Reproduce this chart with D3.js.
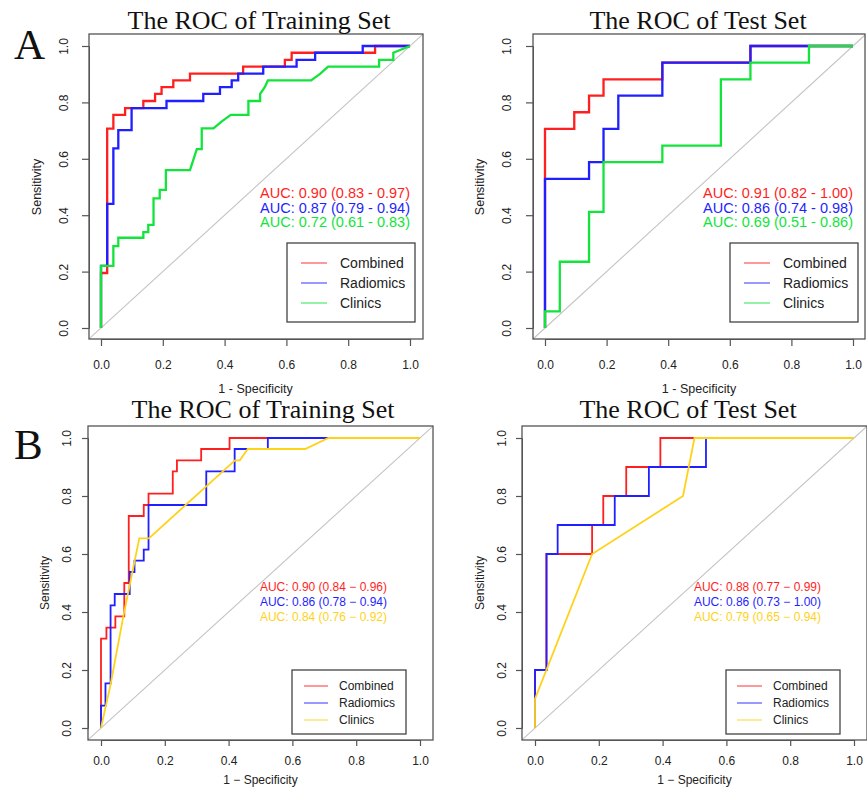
<!DOCTYPE html>
<html>
<head>
<meta charset="utf-8">
<script src="https://cdn.jsdelivr.net/npm/d3@7"></script>
<style>
  body { margin: 0; background: #fff; }
  text { font-family: "Liberation Sans", Arial, sans-serif; fill: #222; }
</style>
</head>
<body>
<div id="chart"></div>
<script>
const models = ["Combined", "Radiomics", "Clinics"];
const tickValues = [0, 0.2, 0.4, 0.6, 0.8, 1.0];

// each curve: [1 - specificity, sensitivity]
// A - training set
const aTrainCombined = [[0,0],[0,0.195],[0.02,0.195],[0.02,0.707],[0.04,0.707],[0.04,0.756],[0.078,0.756],[0.078,0.78],[0.137,0.78],[0.137,0.805],[0.175,0.805],[0.175,0.83],[0.196,0.83],[0.196,0.854],[0.234,0.854],[0.234,0.878],[0.288,0.878],[0.288,0.902],[0.46,0.902],[0.46,0.927],[0.595,0.927],[0.595,0.951],[0.617,0.951],[0.617,0.976],[0.887,0.976],[0.887,1],[1,1]];
const aTrainRadiomics = [[0,0],[0,0.22],[0.02,0.22],[0.02,0.44],[0.04,0.44],[0.04,0.637],[0.056,0.637],[0.056,0.702],[0.099,0.702],[0.099,0.78],[0.212,0.78],[0.212,0.805],[0.331,0.805],[0.331,0.83],[0.385,0.83],[0.385,0.854],[0.423,0.854],[0.423,0.878],[0.444,0.878],[0.444,0.902],[0.525,0.902],[0.525,0.927],[0.633,0.927],[0.633,0.951],[0.693,0.951],[0.693,0.976],[0.847,0.976],[0.847,1],[1,1]];
const aTrainClinics = [[0,0],[0,0.22],[0.04,0.22],[0.04,0.29],[0.056,0.29],[0.056,0.32],[0.137,0.32],[0.137,0.34],[0.153,0.34],[0.153,0.366],[0.17,0.366],[0.17,0.46],[0.19,0.46],[0.19,0.49],[0.21,0.49],[0.21,0.56],[0.288,0.56],[0.31,0.634],[0.326,0.634],[0.326,0.708],[0.364,0.708],[0.39,0.732],[0.42,0.756],[0.477,0.756],[0.477,0.805],[0.515,0.805],[0.515,0.83],[0.53,0.854],[0.54,0.878],[0.68,0.878],[0.71,0.902],[0.735,0.927],[0.9,0.927],[0.9,0.951],[0.946,0.951],[0.946,0.976],[1,1]];
const aTrainAuc = ["AUC: 0.90 (0.83 - 0.97)", "AUC: 0.87 (0.79 - 0.94)", "AUC: 0.72 (0.61 - 0.83)"];

// A - test set
const aTestCombined = [[0,0],[0,0.706],[0.095,0.706],[0.095,0.765],[0.143,0.765],[0.143,0.824],[0.19,0.824],[0.19,0.882],[0.381,0.882],[0.381,0.941],[0.667,0.941],[0.667,1],[1,1]];
const aTestRadiomics = [[0,0],[0,0.529],[0.143,0.529],[0.143,0.588],[0.19,0.588],[0.19,0.706],[0.238,0.706],[0.238,0.824],[0.381,0.824],[0.381,0.941],[0.667,0.941],[0.667,1],[1,1]];
const aTestClinics = [[0,0],[0,0.059],[0.048,0.059],[0.048,0.235],[0.143,0.235],[0.143,0.412],[0.19,0.412],[0.19,0.588],[0.381,0.588],[0.381,0.647],[0.571,0.647],[0.571,0.882],[0.667,0.882],[0.667,0.941],[0.857,0.941],[0.857,1],[1,1]];
const aTestAuc = ["AUC: 0.91 (0.82 - 1.00)", "AUC: 0.86 (0.74 - 0.98)", "AUC: 0.69 (0.51 - 0.86)"];

// B - training set
const bTrainCombined = [[0,0],[0,0.308],[0.017,0.308],[0.017,0.346],[0.045,0.346],[0.045,0.385],[0.073,0.385],[0.073,0.5],[0.087,0.5],[0.087,0.731],[0.134,0.731],[0.134,0.769],[0.149,0.769],[0.149,0.808],[0.225,0.808],[0.225,0.885],[0.238,0.885],[0.238,0.923],[0.314,0.923],[0.314,0.962],[0.403,0.962],[0.403,1],[1,1]];
const bTrainRadiomics = [[0,0],[0,0.077],[0.014,0.077],[0.014,0.154],[0.03,0.154],[0.03,0.423],[0.043,0.423],[0.043,0.462],[0.09,0.462],[0.09,0.538],[0.105,0.538],[0.105,0.577],[0.134,0.577],[0.134,0.615],[0.149,0.615],[0.149,0.769],[0.33,0.769],[0.33,0.885],[0.419,0.885],[0.419,0.962],[0.523,0.962],[0.523,1],[1,1]];
const bTrainClinics = [[0,0],[0.03,0.15],[0.07,0.385],[0.12,0.654],[0.15,0.654],[0.42,0.923],[0.435,0.923],[0.46,0.962],[0.64,0.962],[0.713,1],[1,1]];
const bTrainAuc = ["AUC: 0.90 (0.84 \u2212 0.96)", "AUC: 0.86 (0.78 \u2212 0.94)", "AUC: 0.84 (0.76 \u2212 0.92)"];

// B - test set
const bTestCombined = [[0,0],[0,0.2],[0.036,0.2],[0.036,0.6],[0.179,0.6],[0.179,0.7],[0.214,0.7],[0.214,0.8],[0.286,0.8],[0.286,0.9],[0.393,0.9],[0.393,1],[1,1]];
const bTestRadiomics = [[0,0],[0,0.2],[0.036,0.2],[0.036,0.6],[0.071,0.6],[0.071,0.7],[0.25,0.7],[0.25,0.8],[0.357,0.8],[0.357,0.9],[0.536,0.9],[0.536,1],[1,1]];
const bTestClinics = [[0,0],[0,0.1],[0.179,0.6],[0.464,0.8],[0.5,1],[1,1]];
const bTestAuc = ["AUC: 0.88 (0.77 \u2212 0.99)", "AUC: 0.86 (0.73 \u2212 1.00)", "AUC: 0.79 (0.65 \u2212 0.94)"];

const colorsA = ["#ff1f1f", "#1f1fff", "#12e43c"];
const colorsB = ["#ff1f1f", "#1f1fff", "#ffd21a"];

const svg = d3.select("#chart").append("svg")
    .attr("width", 867)
    .attr("height", 787);

svg.append("rect").attr("width", 867).attr("height", 787).attr("fill", "#fff");

function drawPanel(p) {
    const x = d3.scaleLinear().domain([0, 1]).range([p.x0, p.x1]);
    const y = d3.scaleLinear().domain([0, 1]).range([p.y0, p.y1]);
    const g = svg.append("g");

    // reference diagonal, clipped to the box
    const t0 = Math.max(x.invert(p.left), y.invert(p.bottom));
    const t1 = Math.min(x.invert(p.right), y.invert(p.top));
    g.append("line")
        .attr("x1", x(t0)).attr("y1", y(t0))
        .attr("x2", x(t1)).attr("y2", y(t1))
        .attr("stroke", "#c4c4c4")
        .attr("stroke-width", 1.1);

    const line = d3.line().x(d => x(d[0])).y(d => y(d[1]));
    p.curves.forEach((c, i) => {
        g.append("path")
            .datum(c)
            .attr("d", line)
            .attr("fill", "none")
            .attr("stroke", p.colors[i])
            .attr("stroke-width", p.lw);
    });

    // box
    g.append("rect")
        .attr("x", p.left).attr("y", p.top)
        .attr("width", p.right - p.left).attr("height", p.bottom - p.top)
        .attr("fill", "none")
        .attr("stroke", "#555")
        .attr("stroke-width", 1.3);

    const xAxis = g.append("g")
        .attr("transform", `translate(0,${p.bottom})`)
        .call(d3.axisBottom(x).tickValues(tickValues).tickFormat(d3.format(".1f"))
            .tickSize(p.tick).tickPadding(p.xPad));
    const yAxis = g.append("g")
        .attr("transform", `translate(${p.left},0)`)
        .call(d3.axisLeft(y).tickValues(tickValues).tickFormat(d3.format(".1f")).tickSize(p.tick));
    [xAxis, yAxis].forEach(a => {
        a.select(".domain").attr("stroke", "#555");
        a.selectAll(".tick line").attr("stroke", "#555").attr("stroke-width", 1.2);
        a.selectAll("text").attr("font-size", p.tickFont).attr("fill", "#333")
            .style("font-family", "Liberation Sans, Arial, sans-serif");
    });
    yAxis.selectAll(".tick text")
        .attr("x", null).attr("dy", "0.35em")
        .attr("text-anchor", "middle")
        .attr("transform", `translate(${-p.yGap},0) rotate(-90)`);

    // axis titles
    g.append("text")
        .attr("x", (p.x0 + p.x1) / 2).attr("y", p.bottom + p.xTitleGap)
        .attr("dy", "0.35em").attr("text-anchor", "middle")
        .attr("font-size", p.labelFont)
        .text(p.xTitle);
    g.append("text")
        .attr("transform", `translate(${p.left - p.yTitleGap},${(p.y0 + p.y1) / 2}) rotate(-90)`)
        .attr("dy", "0.35em").attr("text-anchor", "middle")
        .attr("font-size", p.labelFont)
        .text("Sensitivity");

    // title
    g.append("text")
        .attr("x", p.titleX).attr("y", p.titleY)
        .attr("text-anchor", "middle")
        .attr("font-size", 26)
        .style("font-family", "Liberation Serif, Times New Roman, serif")
        .style("fill", "#111")
        .text(p.title);

    // AUC labels
    p.auc.forEach((t, i) => {
        g.append("text")
            .attr("x", p.aucX).attr("y", p.aucY + i * p.aucStep)
            .attr("dy", "0.35em").attr("text-anchor", "end")
            .attr("font-size", p.aucFont)
            .style("fill", p.colors[i])
            .text(t);
    });

    // legend
    const lg = p.legend;
    g.append("rect")
        .attr("x", lg.x).attr("y", lg.y)
        .attr("width", lg.w).attr("height", lg.h)
        .attr("fill", "#fff")
        .attr("stroke", "#444")
        .attr("stroke-width", 1.3);
    models.forEach((m, i) => {
        const ry = lg.row0 + i * lg.step;
        g.append("line")
            .attr("x1", lg.lx1).attr("x2", lg.lx2)
            .attr("y1", ry).attr("y2", ry)
            .attr("stroke", p.colors[i])
            .attr("stroke-opacity", 0.7)
            .attr("stroke-width", 1.3);
        g.append("text")
            .attr("x", lg.tx).attr("y", ry)
            .attr("dy", "0.35em")
            .attr("font-size", lg.font)
            .text(m);
    });
}

const topCommon = {
    top: 34, bottom: 339, y1: 46, y0: 328, lw: 2.3, tick: 7, xPad: 14,
    tickFont: 12, labelFont: 12.5, xTitleGap: 50, titleY: 29,
    aucFont: 14.5, aucY: 193, aucStep: 14.5, colors: colorsA
};
const bottomCommon = {
    top: 426, bottom: 740, y1: 438, y0: 728, lw: 1.8, tick: 6, xPad: 10,
    tickFont: 12, labelFont: 12, xTitleGap: 40, titleY: 418,
    aucFont: 12, aucY: 587, aucStep: 15, colors: colorsB
};

drawPanel(Object.assign({}, topCommon, {
    left: 89, right: 423, x0: 101, x1: 410, yGap: 25, yTitleGap: 52,
    xTitle: "1 - Specificity", title: "The ROC of Training Set", titleX: 259,
    curves: [aTrainCombined, aTrainRadiomics, aTrainClinics], auc: aTrainAuc, aucX: 410,
    legend: { x: 287, y: 243, w: 128, h: 79, lx1: 301, lx2: 327, tx: 340, row0: 263, step: 20, font: 14 }
}));
drawPanel(Object.assign({}, topCommon, {
    left: 533, right: 865, x0: 545, x1: 853, yGap: 26, yTitleGap: 53,
    xTitle: "1 - Specificity", title: "The ROC of Test Set", titleX: 698,
    curves: [aTestCombined, aTestRadiomics, aTestClinics], auc: aTestAuc, aucX: 853,
    legend: { x: 730, y: 243, w: 128, h: 79, lx1: 744, lx2: 770, tx: 783, row0: 263, step: 20, font: 14 }
}));
drawPanel(Object.assign({}, bottomCommon, {
    left: 88, right: 433, x0: 101, x1: 420, yGap: 21, yTitleGap: 43,
    xTitle: "1 \u2212 Specificity", title: "The ROC of Training Set", titleX: 263,
    curves: [bTrainCombined, bTrainRadiomics, bTrainClinics], auc: bTrainAuc, aucX: 387,
    legend: { x: 292, y: 670, w: 114, h: 64, lx1: 304, lx2: 328, tx: 339, row0: 686, step: 17, font: 12 }
}));
drawPanel(Object.assign({}, bottomCommon, {
    left: 522, right: 867, x0: 535, x1: 854, yGap: 20, yTitleGap: 42,
    xTitle: "1 \u2212 Specificity", title: "The ROC of Test Set", titleX: 688,
    curves: [bTestCombined, bTestRadiomics, bTestClinics], auc: bTestAuc, aucX: 821,
    legend: { x: 726, y: 670, w: 114, h: 64, lx1: 737, lx2: 762, tx: 773, row0: 686, step: 17, font: 12 }
}));

// panel letters
[["A", 59], ["B", 459]].forEach(([t, by]) => {
    svg.append("text")
        .attr("x", 14).attr("y", by)
        .attr("font-size", 43)
        .style("font-family", "Liberation Serif, Times New Roman, serif")
        .style("fill", "#111")
        .text(t);
});
</script>
</body>
</html>
